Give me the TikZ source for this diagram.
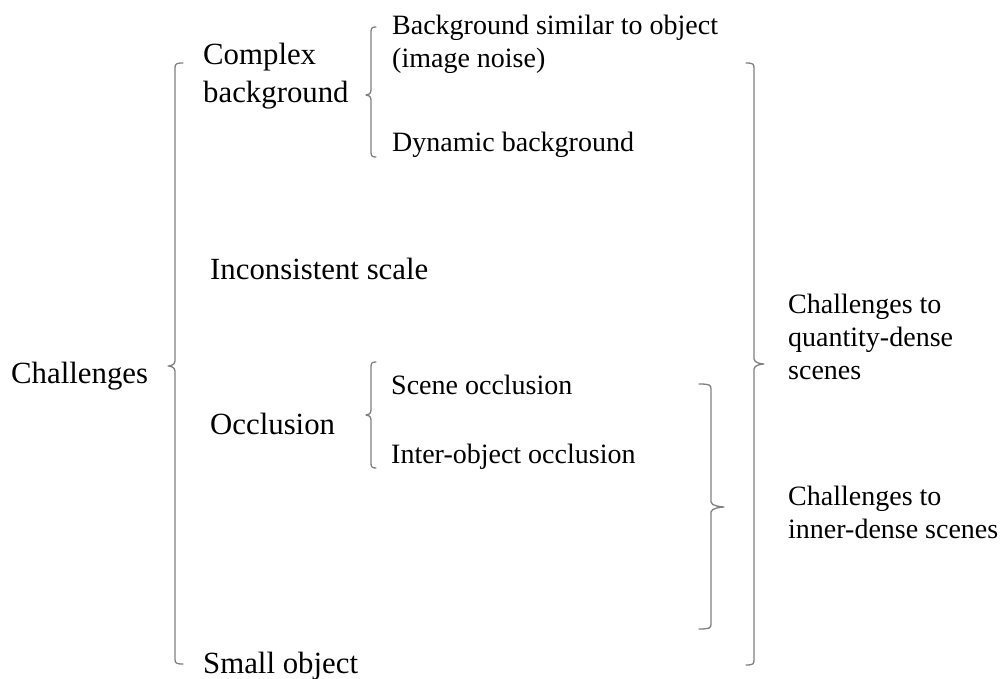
\documentclass[tikz,border=0pt]{standalone}
\usepackage{fontspec}
\setmainfont{Liberation Serif}
\begin{document}
\begin{tikzpicture}[x=1pt,y=-1pt,
  bigtxt/.style={anchor=base west,inner sep=0pt,font=\fontsize{30.8}{38}\selectfont,text=black},
  smalltxt/.style={anchor=base west,inner sep=0pt,font=\fontsize{28}{33}\selectfont,text=black},
  bracket/.style={draw=black!50,line width=1.3pt,line cap=round,line join=round}]
\useasboundingbox (0,0) rectangle (1001,679);
% #1 x of line, #2 top, #3 mid, #4 bottom, #5 curl length, #6 tip length
\newcommand{\BraceOpenRight}[6]{%
  \draw[bracket] ({#1+#5},#2) .. controls ({#1+1},#2) and (#1,{#2+1}) .. (#1,{#2+5})
    -- (#1,{#3-5}) .. controls (#1,{#3-1}) and ({#1-#6+2},#3) .. ({#1-#6},#3)
    .. controls ({#1-#6+2},#3) and (#1,{#3+1}) .. (#1,{#3+5})
    -- (#1,{#4-5}) .. controls (#1,{#4-1}) and ({#1+1},#4) .. ({#1+#5},#4);}
\newcommand{\BraceOpenLeft}[6]{%
  \draw[bracket] ({#1-#5},#2) .. controls ({#1-1},#2) and (#1,{#2+1}) .. (#1,{#2+5})
    -- (#1,{#3-5}) .. controls (#1,{#3-1}) and ({#1+#6-2},#3) .. ({#1+#6},#3)
    .. controls ({#1+#6-2},#3) and (#1,{#3+1}) .. (#1,{#3+5})
    -- (#1,{#4-5}) .. controls (#1,{#4-1}) and ({#1-1},#4) .. ({#1-#5},#4);}

% left labels
\node[bigtxt] (chal) at (11,383) {Challenges};
\node[bigtxt] (cb1) at (203,65) {Complex};
\node[bigtxt] (cb2) at (203,103) {background};
\node[bigtxt] (incs) at (210,279) {Inconsistent scale};
\node[bigtxt] (occ) at (210,434) {Occlusion};
\node[bigtxt] (small) at (203,673) {Small object};

% sub-items
\node[smalltxt] (bs1) at (392,35) {Background similar to object};
\node[smalltxt] (bs2) at (392,68) {(image noise)};
\node[smalltxt] (dyn) at (392,152) {Dynamic background};
\node[smalltxt] (sce) at (391,394) {Scene occlusion};
\node[smalltxt] (inter) at (391,463) {Inter-object occlusion};

% right labels
\node[smalltxt] (q1) at (788,313) {Challenges to};
\node[smalltxt] (q2) at (788,346) {quantity-dense};
\node[smalltxt] (q3) at (788,379) {scenes};
\node[smalltxt] (i1) at (788,505) {Challenges to};
\node[smalltxt] (i2) at (788,538) {inner-dense scenes};

% braces
\BraceOpenRight{175}{63}{366}{664}{8}{7}
\BraceOpenRight{371}{27}{95}{157}{5}{5}
\BraceOpenRight{371}{362}{415}{468}{5}{5}
\BraceOpenLeft{754}{63}{364}{665}{8}{10}
\BraceOpenLeft{711}{384}{507}{629}{12}{13}
\end{tikzpicture}
\end{document}
